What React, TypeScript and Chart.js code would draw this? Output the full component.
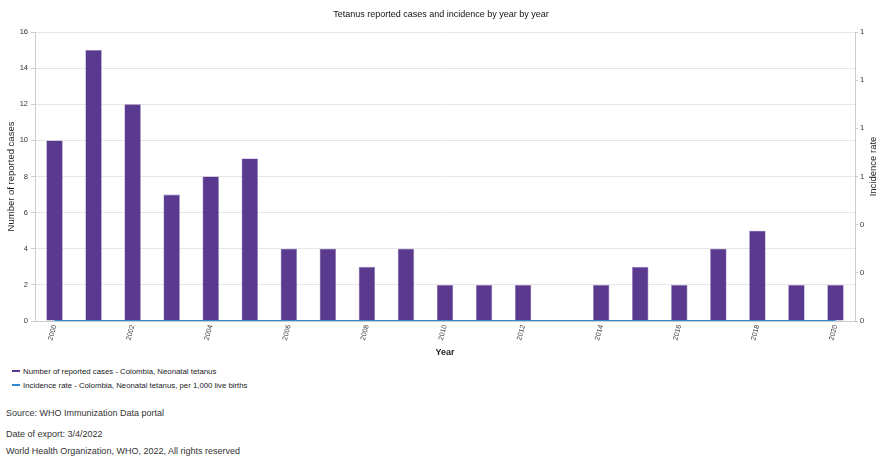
import React, { useEffect, useRef } from "react";
import { Chart, registerables } from "chart.js";

Chart.register(...registerables);

const years = [
  "2000", "2001", "2002", "2003", "2004", "2005", "2006", "2007", "2008", "2009", "2010",
  "2011", "2012", "2013", "2014", "2015", "2016", "2017", "2018", "2019", "2020",
];
const reportedCases = [10, 15, 12, 7, 8, 9, 4, 4, 3, 4, 2, 2, 2, null, 2, 3, 2, 4, 5, 2, 2];
const incidenceRate = [0, 0, 0, 0, 0, 0, 0, 0, 0, 0, 0, 0, 0, 0, 0, 0, 0, 0, 0, 0, 0];

const chartTitle = "Tetanus reported cases and incidence by year by year";
const casesLabel = "Number of reported cases - Colombia, Neonatal tetanus";
const rateLabel = "Incidence rate - Colombia, Neonatal tetanus, per 1,000 live births";
const leftAxisTitle = "Number of reported cases";
const rightAxisTitle = "Incidence rate";
const xAxisTitle = "Year";
const footerLines = [
  "Source: WHO Immunization Data portal",
  "Date of export: 3/4/2022",
  "World Health Organization, WHO, 2022, All rights reserved",
];

const PURPLE = "#5a3a8e";
const BLUE = "#2a8ad6";
const FONT = "'Liberation Sans', Arial, sans-serif";

const rightTitlePlugin = {
  id: "rightTitle",
  afterDraw(chart: any) {
    const ctx = chart.ctx;
    const area = chart.chartArea;
    ctx.save();
    ctx.font = `9.5px ${FONT}`;
    ctx.fillStyle = "#222";
    ctx.textAlign = "center";
    ctx.textBaseline = "middle";
    ctx.translate(873, (area.top + area.bottom) / 2 - 10);
    ctx.rotate(-Math.PI / 2);
    ctx.fillText(rightAxisTitle, 0, 0);
    ctx.restore();
  },
};

export default function App() {
  const ref = useRef<HTMLCanvasElement | null>(null);

  useEffect(() => {
    if (!ref.current) return;
    const chart = new Chart(ref.current, {
      type: "bar",
      data: {
        labels: years,
        datasets: [
          {
            type: "line",
            label: rateLabel,
            data: incidenceRate,
            yAxisID: "y1",
            borderColor: BLUE,
            backgroundColor: BLUE,
            borderWidth: 2,
            pointRadius: 0,
            order: 0,
          } as any,
          {
            type: "bar",
            label: casesLabel,
            data: reportedCases,
            yAxisID: "y",
            backgroundColor: PURPLE,
            borderColor: "#8a74b4",
            borderWidth: 0.6,
            categoryPercentage: 1,
            barPercentage: 0.42,
            order: 1,
          } as any,
        ],
      },
      options: {
        responsive: false,
        animation: false,
        font: { family: FONT },
        layout: { padding: { left: 4, right: 0, top: 0, bottom: 0 } },
        plugins: {
          legend: { display: false },
          tooltip: { enabled: false },
          title: {
            display: true,
            text: chartTitle,
            color: "#111",
            font: { family: FONT, size: 9, weight: "normal" },
            padding: { top: 9.6, bottom: 11.6 },
          },
        },
        scales: {
          x: {
            afterFit(scale: any) {
              scale.height = 37;
            },
            grid: { display: false, drawTicks: false },
            border: { display: true, color: "#ccc" },
            ticks: {
              autoSkip: false,
              minRotation: 75,
              maxRotation: 75,
              padding: 3,
              color: "#333",
              font: { family: FONT, size: 7 },
              callback(value: any, index: number) {
                return index % 2 === 0 ? years[index] : "";
              },
            },
            title: {
              display: true,
              text: xAxisTitle,
              color: "#222",
              font: { family: FONT, size: 9, weight: "bold" },
              padding: { top: 2.6, bottom: 0 },
            },
          },
          y: {
            position: "left",
            min: 0,
            max: 16,
            afterFit(scale: any) {
              scale.width = 31;
            },
            grid: { color: "#e6e6e6", tickColor: "#ccc", tickLength: 4 },
            border: { display: true, color: "#ccc" },
            ticks: {
              stepSize: 2,
              padding: 3,
              color: "#333",
              font: { family: FONT, size: 7.5 },
            },
            title: {
              display: true,
              text: leftAxisTitle,
              color: "#222",
              font: { family: FONT, size: 9.5 },
              padding: { top: 2, bottom: 0 },
            },
          },
          y1: {
            position: "right",
            min: 0,
            max: 1.2,
            afterFit(scale: any) {
              scale.width = 23;
            },
            grid: { drawOnChartArea: false, tickColor: "#ccc", tickLength: 3 },
            border: { display: true, color: "#ccc" },
            ticks: {
              stepSize: 0.2,
              padding: 2,
              color: "#333",
              font: { family: FONT, size: 7.5 },
              callback(value: any) {
                return String(Math.round(Number(value)));
              },
            },
          },
        },
      } as any,
      plugins: [rightTitlePlugin],
    });
    return () => chart.destroy();
  }, []);

  const legendItems = [
    { color: PURPLE, text: casesLabel, y: 371 },
    { color: BLUE, text: rateLabel, y: 385 },
  ];
  const footerY = [413, 434, 451];

  return (
    <div
      style={{
        position: "absolute",
        left: 0,
        top: 0,
        width: 878,
        height: 473,
        background: "#fff",
        fontFamily: FONT,
        overflow: "hidden",
      }}
    >
      <canvas ref={ref} width={878} height={358} style={{ display: "block" }} />
      {legendItems.map((it, i) => (
        <div
          key={i}
          style={{
            position: "absolute",
            left: 12,
            top: it.y - 6,
            height: 12,
            display: "flex",
            alignItems: "center",
            fontSize: 7.8,
            color: "#222",
            whiteSpace: "nowrap",
          }}
        >
          <span
            style={{
              display: "inline-block",
              width: 8,
              height: 2,
              background: it.color,
              marginRight: 3,
            }}
          />
          {it.text}
        </div>
      ))}
      {footerLines.map((t, i) => (
        <div
          key={i}
          style={{
            position: "absolute",
            left: 6,
            top: footerY[i] - 7,
            height: 14,
            lineHeight: "14px",
            fontSize: 9,
            color: "#333",
            whiteSpace: "nowrap",
          }}
        >
          {t}
        </div>
      ))}
    </div>
  );
}
